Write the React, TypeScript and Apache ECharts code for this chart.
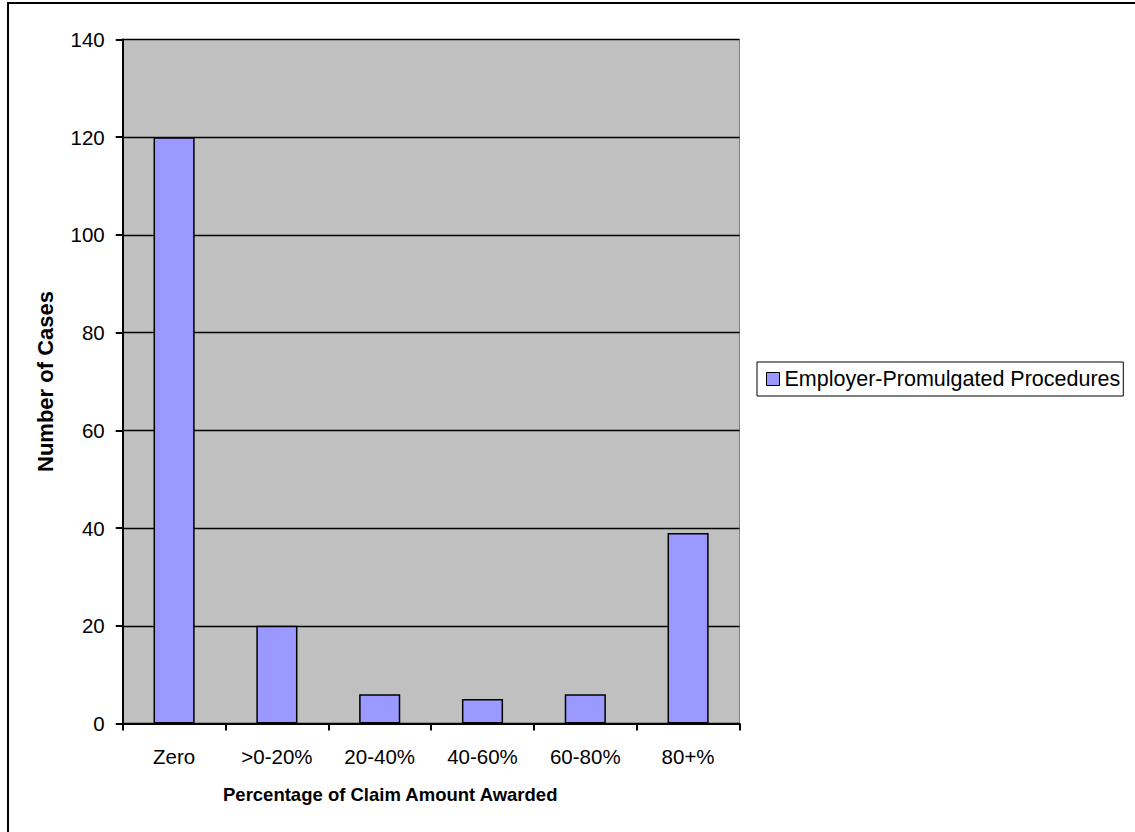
import React, { useEffect, useRef } from "react";
import * as echarts from "echarts";

const categories = ["Zero", ">0-20%", "20-40%", "40-60%", "60-80%", "80+%"];
const seriesName = "Employer-Promulgated Procedures";
const values = [120, 20, 6, 5, 6, 39];
const yMin = 0;
const yMax = 140;
const yInterval = 20;
const xTitle = "Percentage of Claim Amount Awarded";
const yTitle = "Number of Cases";

const FONT = "'Liberation Sans', Arial, sans-serif";

export default function App() {
  const ref = useRef<HTMLDivElement>(null);
  useEffect(() => {
    document.body.style.margin = "0";
    if (!ref.current) return;
    const chart = echarts.init(ref.current, null, { renderer: "svg" });
    chart.setOption({
      animation: false,
      backgroundColor: "#ffffff",
      textStyle: { fontFamily: FONT },
      grid: {
        left: 122.7,
        right: 1135 - 739.5,
        top: 39.5,
        bottom: 832 - 723.5,
        show: true,
        backgroundColor: "#C0C0C0",
        borderColor: "#808080",
        borderWidth: 1,
      },
      legend: {
        data: [seriesName],
        left: 757,
        top: 362,
        orient: "vertical",
        itemWidth: 13,
        itemHeight: 13,
        padding: [6, 3, 6, 9],
        borderColor: "#000",
        borderWidth: 1,
        backgroundColor: "#fff",
        icon: "rect",
        itemStyle: { borderColor: "#000", borderWidth: 1 },
        textStyle: { fontFamily: FONT, fontSize: 21.5, color: "#000" },
      },
      xAxis: {
        type: "category",
        data: categories,
        boundaryGap: true,
        axisLine: { show: true, lineStyle: { color: "#000", width: 2 } },
        axisTick: { show: true, length: 7, lineStyle: { color: "#000", width: 2 } },
        axisLabel: { color: "#000", fontSize: 20.5, fontFamily: FONT, margin: 22 },
        splitLine: { show: false },
      },
      yAxis: {
        type: "value",
        min: yMin,
        max: yMax,
        interval: yInterval,
        name: yTitle,
        nameLocation: "middle",
        nameGap: 66,
        nameRotate: 90,
        nameTextStyle: { color: "#000", fontSize: 22, fontWeight: "bold", fontFamily: FONT },
        axisLine: { show: true, lineStyle: { color: "#000", width: 2 } },
        axisTick: { show: true, length: 7, lineStyle: { color: "#000", width: 2 } },
        axisLabel: { color: "#000", fontSize: 20.5, fontFamily: FONT, margin: 18 },
        splitLine: { show: true, lineStyle: { color: "#000", width: 1.3 } },
      },
      series: [
        {
          name: seriesName,
          type: "bar",
          data: values,
          barWidth: "40%",
          itemStyle: { color: "#9999FF", borderColor: "#000", borderWidth: 1.5 },
          z: 3,
        },
      ],
      graphic: [
        {
          type: "text",
          left: 223,
          top: 785,
          style: {
            text: xTitle,
            fontFamily: FONT,
            fontSize: 18.5,
            fontWeight: "bold",
            fill: "#000",
          },
        },
        {
          type: "rect",
          shape: { x: 8, y: 3, width: 1300, height: 1000 },
          style: { fill: "none", stroke: "#000", lineWidth: 2 },
          silent: true,
        },
      ],
    });
    return () => chart.dispose();
  }, []);
  return <div ref={ref} style={{ width: 1135, height: 832 }} />;
}
